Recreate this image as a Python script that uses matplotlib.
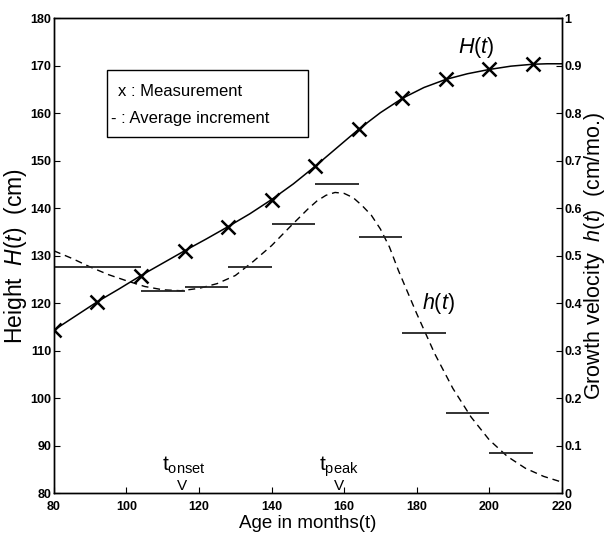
"""
Growth chart: height H(t) with measurements and growth velocity h(t)
with average increments between measurements.
"""
import matplotlib
matplotlib.use('Agg')
import matplotlib.pyplot as plt
from matplotlib.patches import Rectangle
from matplotlib.ticker import FuncFormatter

plt.rcParams.update({
    'font.family': ['Liberation Sans', 'DejaVu Sans'],
    'mathtext.fontset': 'custom',
    'mathtext.rm': 'Liberation Sans',
    'mathtext.it': 'Liberation Sans:italic',
    'axes.linewidth': 1.0,
    'xtick.direction': 'in',
    'ytick.direction': 'in',
})

# --- measurements (every 12 months) ---
meas_age = [80, 92, 104, 116, 128, 140, 152, 164, 176, 188, 200, 212]
meas_height = [114.3, 120.3, 125.8, 131.0, 136.1, 141.8, 148.8, 156.6,
               163.1, 167.1, 169.2, 170.3]

# --- fitted height curve H(t) ---
curve_age = [80, 86, 92, 98, 104, 110, 116, 122, 128, 134, 140, 146, 152,
             158, 164, 170, 176, 182, 188, 194, 200, 206, 212, 216, 220]
curve_height = [114.3, 117.3, 120.3, 123.0, 125.8, 128.4, 131.0, 133.5,
                136.1, 138.8, 141.8, 145.1, 148.8, 152.7, 156.6, 160.1,
                163.1, 165.4, 167.1, 168.3, 169.2, 169.9, 170.3, 170.4,
                170.4]

# --- growth velocity curve h(t) ---
vel_age = [80, 85, 90, 95, 100, 105, 110, 115, 120, 125, 130, 135, 140,
           145, 150, 152.5, 155, 157.5, 160, 162.5, 165, 167.5, 170, 172.5,
           175, 180, 185, 190, 195, 200, 205, 210, 215, 220]
vel_value = [0.51, 0.494, 0.476, 0.46, 0.447, 0.435, 0.428, 0.426, 0.431,
             0.441, 0.458, 0.488, 0.521, 0.56, 0.598, 0.615, 0.627, 0.633,
             0.631, 0.622, 0.605, 0.585, 0.556, 0.518, 0.468, 0.378, 0.293,
             0.22, 0.16, 0.112, 0.077, 0.052, 0.035, 0.023]

# --- average increment over each measurement interval (cm/month) ---
inc_start = [80, 92, 104, 116, 128, 140, 152, 164, 176, 188, 200]
inc_end = [92, 104, 116, 128, 140, 152, 164, 176, 188, 200, 212]
inc_value = [0.475, 0.475, 0.426, 0.434, 0.475, 0.566, 0.65, 0.54, 0.336,
             0.169, 0.085]

t_onset = 115.2
t_peak = 158.5

legend_lines = ['x : Measurement', '- : Average increment']


def main():
    fig = plt.figure(figsize=(6.06, 5.35), dpi=100)
    ax = fig.add_axes([0.089, 0.0785, 0.838, 0.8875])
    ax2 = ax.twinx()

    # height axis
    ax.plot(curve_age, curve_height, color='black', lw=1.1, zorder=3)
    ax.plot(meas_age, meas_height, linestyle='none', marker='x',
            color='black', markersize=9.5, mew=1.8, zorder=4)

    # velocity axis
    ax2.plot(vel_age, vel_value, color='black', lw=1.0,
             dashes=(5, 3.5), zorder=2)
    ax2.hlines(inc_value, inc_start, inc_end, color='#222222', lw=1.3,
               zorder=2)

    ax.set_xlim(80, 220)
    ax.set_ylim(80, 180)
    ax2.set_ylim(0, 1)

    ax.set_xticks(range(80, 221, 20))
    ax.set_yticks(range(80, 181, 10))
    ax2.set_yticks([i / 10 for i in range(11)])
    ax2.yaxis.set_major_formatter(FuncFormatter(lambda v, p: f'{v:g}'))

    for lab in ax.get_xticklabels() + ax.get_yticklabels() + ax2.get_yticklabels():
        lab.set_fontsize(9)
        lab.set_fontweight('bold')
    ax.tick_params(axis='y', length=4, width=0.8, pad=2)
    ax.tick_params(axis='x', length=4, width=0.8, pad=6)
    ax2.tick_params(axis='y', length=4, width=0.8, pad=2)

    ax.set_xlabel('Age in months(t)', fontsize=13.5, labelpad=1)
    ax.set_ylabel('Height  $\\mathit{H(t)}$  (cm)', fontsize=16.5, labelpad=1)
    ax2.set_ylabel('Growth velocity  $\\mathit{h(t)}$  (cm/mo.)',
                   fontsize=15.5, labelpad=0)

    # curve labels
    ax.text(196.5, 173.9, '$\\mathit{H(t)}$', fontsize=15.5,
            ha='center', va='center')
    ax2.text(186, 0.40, '$\\mathit{h(t)}$', fontsize=15.5,
             ha='center', va='center')

    # onset / peak markers
    for t_mark, sub in [(t_onset, 'onset'), (t_peak, 'peak')]:
        ax.text(t_mark, 80.0, 'V', fontsize=11, ha='center', va='bottom')
        ax.text(t_mark - 5.4, 84.7, '$\\mathrm{t}_{\\mathrm{%s}}$' % sub,
                fontsize=15, ha='left', va='baseline')

    # legend box drawn as in the original figure
    ax.add_patch(Rectangle((0.1043, 0.7495), 0.3957, 0.141,
                           transform=ax.transAxes, facecolor='white',
                           edgecolor='black', lw=1.0, zorder=5))
    ax.text(0.126, 0.836, legend_lines[0], transform=ax.transAxes,
            fontsize=12, ha='left', va='baseline', zorder=6)
    ax.text(0.113, 0.779, legend_lines[1], transform=ax.transAxes,
            fontsize=12, ha='left', va='baseline', zorder=6)

    fig.savefig('out.png', dpi=100)
    plt.close(fig)


if __name__ == '__main__':
    main()
